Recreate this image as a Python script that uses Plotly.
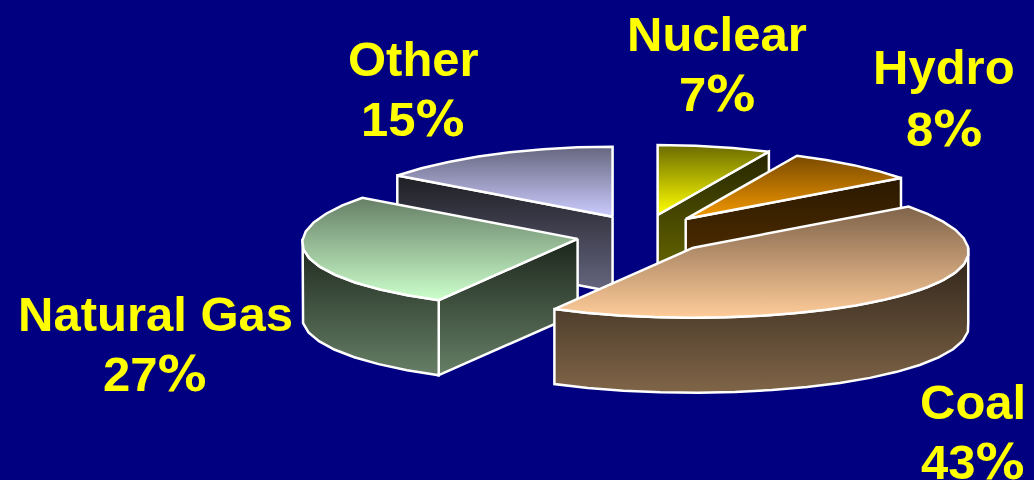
import numpy as np
import plotly.graph_objects as go

categories = ["Nuclear", "Hydro", "Coal", "Natural Gas", "Other"]
shares = [7, 8, 43, 27, 15]
top_colors = [("#6b6b00", "#ffff00"), ("#7a4a00", "#f59a00"), ("#7f634a", "#ffcc99"),
              ("#667f66", "#ccffcc"), ("#66667f", "#ccccff")]
side_colors = [("#262600", "#6e6e00"), ("#2a1800", "#5e3600"), ("#2c2218", "#806548"),
               ("#1c261c", "#667f66"), ("#1e1e24", "#666680")]
label_positions = [(717, 50, 110), (944, 83, 145), (973, 418, 478), (155, 330, 390), (413, 75, 135)]
draw_order = ["Other", "Nuclear", "Hydro", "Natural Gas", "Coal"]

CX, CY, RX, RY, DEPTH = 643, 234.5, 275, 70, 75
EXPLODE_X, EXPLODE_Y = 67, 20
PERSPECTIVE = 0.055
STEP = 7.0
FONT_SIZE = 49

fig = go.Figure()


def arc(a1, a2):
    n = max(2, int(abs(a1 - a2) / STEP) + 1)
    return np.radians(np.linspace(a1, a2, n))


def add_poly(xs, ys, colors):
    xs, ys = list(xs), list(ys)
    xs.append(xs[0]); ys.append(ys[0])
    fig.add_trace(go.Scatter(
        x=xs, y=ys, mode="lines", fill="toself",
        line=dict(color="white", width=2.5),
        fillgradient=dict(type="vertical", start=min(ys), stop=max(ys),
                          colorscale=[[0, colors[0]], [1, colors[1]]]),
        hoverinfo="skip", showlegend=False))


angles = {}
a = 90.0
for name, s in zip(categories, shares):
    angles[name] = (a, a - s * 3.6)
    a -= s * 3.6

for name in draw_order:
    i = categories.index(name)
    a1, a2 = angles[name]
    mid = np.radians((a1 + a2) / 2)
    ax = CX + EXPLODE_X * np.cos(mid)
    ay = CY - EXPLODE_Y * np.sin(mid)
    px = lambda t: ax + RX * np.cos(t) * (1 - PERSPECTIVE * np.sin(t))
    py = lambda t: ay - RY * np.sin(t)

    # radial faces turned toward the viewer
    for edge, normal in ((a1, a1 + 90), (a2, a2 - 90)):
        if np.sin(np.radians(normal)) < -1e-6:
            t = np.radians(edge)
            add_poly([ax, px(t), px(t), ax],
                     [ay, py(t), py(t) + DEPTH, ay + DEPTH], side_colors[i])

    # outer rim: visible part lies on the front half of the ellipse
    lo, hi = None, None
    for k in (0, -360):
        h, l = min(a1, 0 + k), max(a2, -180 + k)
        if h > l:
            hi, lo = h, l
    if hi is not None:
        t = arc(hi, lo)
        xs = np.concatenate([px(t), px(t)[::-1]])
        ys = np.concatenate([py(t), (py(t) + DEPTH)[::-1]])
        add_poly(xs, ys, side_colors[i])

    # top face
    t = arc(a1, a2)
    add_poly(np.concatenate([[ax], px(t)]), np.concatenate([[ay], py(t)]), top_colors[i])

for name, s, (lx, b1, b2) in zip(categories, shares, label_positions):
    font = dict(family="Liberation Sans", size=FONT_SIZE, color="#ffff00", weight="bold")
    fig.add_annotation(x=lx, y=b1 - 16, text=name, showarrow=False,
                       xanchor="center", yanchor="middle", font=font)
    fig.add_annotation(x=lx, y=b2 - 16,
                       text=f'{s}<span style="font-family:\'DejaVu Sans\'">%</span>',
                       showarrow=False, xanchor="center", yanchor="middle", font=font)

fig.update_layout(
    width=1034, height=480, margin=dict(l=0, r=0, t=0, b=0),
    paper_bgcolor="#000080", plot_bgcolor="#000080", showlegend=False,
    xaxis=dict(range=[0, 1034], visible=False, fixedrange=True),
    yaxis=dict(range=[480, 0], visible=False, fixedrange=True),
)
fig.write_html("out.html", config={"displayModeBar": False},
               post_script="document.body.style.margin='0';document.body.style.background='#000080';document.body.style.overflow='hidden';")
